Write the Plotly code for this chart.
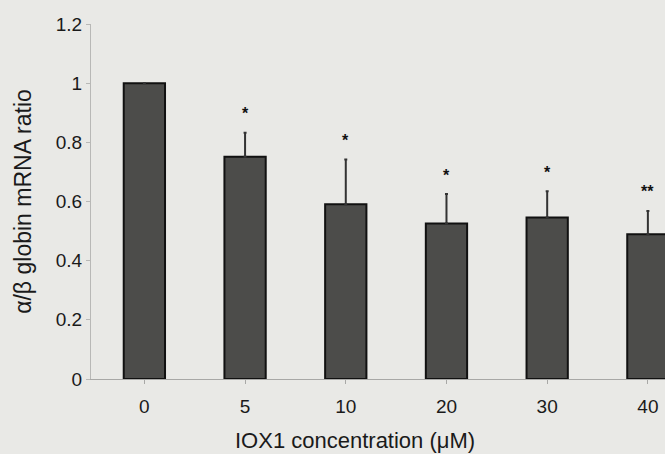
import plotly.graph_objects as go

categories = ["0", "5", "10", "20", "30", "40"]
ratio = [1.0, 0.751, 0.591, 0.526, 0.546, 0.489]
error_up = [0.0, 0.081, 0.151, 0.099, 0.089, 0.079]
significance = ["", "*", "*", "*", "*", "**"]

xpos = list(range(len(categories)))

fig = go.Figure()
fig.add_trace(go.Bar(
    x=xpos, y=ratio, width=0.41,
    marker=dict(color="#4c4c4a", line=dict(color="#111111", width=2)),
    error_y=dict(type="data", array=error_up, arrayminus=[0]*len(ratio),
                 symmetric=False, color="#333333", thickness=2, width=1.5),
    showlegend=False,
))

for x, y, e, s in zip(xpos, ratio, error_up, significance):
    if s:
        fig.add_annotation(x=x, y=y + e, text="<b>" + s + "</b>", showarrow=False, yshift=19,
                           font=dict(family="Liberation Sans", size=16, color="#111111"))

fig.add_annotation(x=0.46, y=-0.172, xref="paper", yref="paper",
                   xanchor="center", yanchor="middle",
                   text="IOX1 concentration (μM)", showarrow=False,
                   font=dict(family="Liberation Sans", size=22, color="#1a1a1a"))

fig.update_layout(
    width=665, height=454,
    margin=dict(l=91, r=0, t=24, b=75),
    paper_bgcolor="#e9e9e6", plot_bgcolor="#e9e9e6",
    font=dict(family="Liberation Sans", size=20, color="#1a1a1a"),
    bargap=0.59,
)
fig.update_xaxes(
    range=[-0.53, 5.17], tickvals=xpos, ticktext=categories,
    showline=True, linecolor="#a8a8a6", linewidth=1,
    ticks="outside", tickson="boundaries", ticklen=4, tickcolor="#a8a8a6",
    showgrid=False, zeroline=False, ticklabelstandoff=6,
    tickfont=dict(size=19),
)
fig.update_yaxes(
    range=[0, 1.2], tickvals=[0, 0.2, 0.4, 0.6, 0.8, 1, 1.2],
    ticktext=["0", "0.2", "0.4", "0.6", "0.8", "1", "1.2"],
    showline=True, linecolor="#b8b8b6", linewidth=1,
    ticks="outside", ticklen=4, tickcolor="#b8b8b6",
    showgrid=False, zeroline=False,
    title=dict(text="α/β globin mRNA ratio", font=dict(size=23), standoff=17),
    tickfont=dict(size=19),
)

fig.write_html("out.html", config={"displayModeBar": False})
with open("out.html", encoding="utf-8") as f:
    html = f.read()
html = html.replace("<body>", '<body style="margin:0;padding:0;">', 1)
with open("out.html", "w", encoding="utf-8") as f:
    f.write(html)
